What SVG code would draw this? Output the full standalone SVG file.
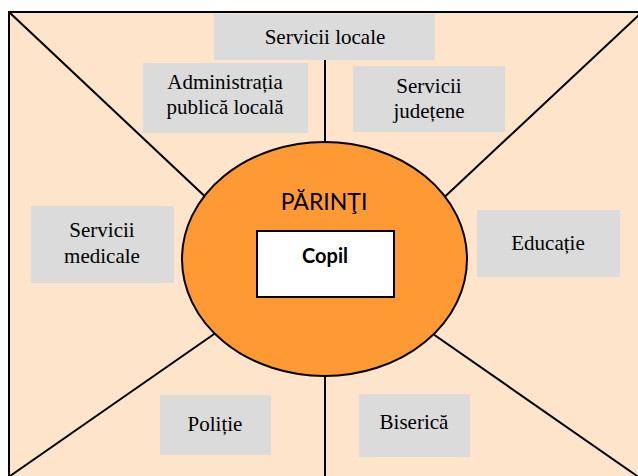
<svg xmlns="http://www.w3.org/2000/svg" width="638" height="476" viewBox="0 0 638 476">
<style>
.box{fill:#dbdbdb}
.ln{stroke:#000;stroke-width:2;fill:none}
</style>
<rect x="0" y="0" width="638" height="476" fill="#ffffff"/>
<rect id="frame" x="9" y="12" width="640" height="480" fill="#fee4cb" stroke="#000" stroke-width="2"/>
<g id="connectors">
<line class="ln" x1="9" y1="12" x2="230" y2="220"/>
<line class="ln" x1="640" y1="14" x2="420" y2="220"/>
<line class="ln" x1="10" y1="476" x2="240" y2="316"/>
<line class="ln" x1="640" y1="478" x2="410" y2="318"/>
<line class="ln" x1="325" y1="60" x2="325" y2="160"/>
<line class="ln" x1="325" y1="360" x2="325" y2="476"/>
</g>
<g font-family="'Liberation Serif','Times New Roman',serif" font-size="21" text-anchor="middle" fill="#000">
<g id="servicii-locale"><rect class="box" x="214" y="14" width="221" height="46"/><text x="325" y="44">Servicii locale</text></g>
<g id="administratia"><rect class="box" x="143" y="63" width="165" height="70"/><text x="225" y="89">Administrația</text><text x="225" y="114">publică locală</text></g>
<g id="servicii-judetene"><rect class="box" x="353" y="66" width="152" height="66"/><text x="429" y="93">Servicii</text><text x="429" y="118">județene</text></g>
<g id="servicii-medicale"><rect class="box" x="31" y="206" width="143" height="77"/><text x="102" y="237">Servicii</text><text x="102" y="263">medicale</text></g>
<g id="educatie"><rect class="box" x="477" y="210" width="143" height="67"/><text x="548" y="250">Educație</text></g>
<g id="politie"><rect class="box" x="160" y="395" width="111" height="60"/><text x="215" y="431">Poliție</text></g>
<g id="biserica"><rect class="box" x="359" y="394" width="111" height="63"/><text x="414" y="429">Biserică</text></g>
</g>
<g id="parinti">
<ellipse cx="324.5" cy="259" rx="142.5" ry="117" fill="#ff9933" stroke="#000" stroke-width="2"/>
<text x="324" y="210" font-family="Lato,'Open Sans',sans-serif" font-size="23" text-anchor="middle" fill="#000">PĂRINŢI</text>
</g>
<g id="copil">
<rect x="257" y="231" width="137" height="66" fill="#fff" stroke="#000" stroke-width="2"/>
<text x="325" y="263" font-family="Lato,'Open Sans',sans-serif" font-size="20" font-weight="bold" text-anchor="middle" fill="#000">Copil</text>
</g>
</svg>
